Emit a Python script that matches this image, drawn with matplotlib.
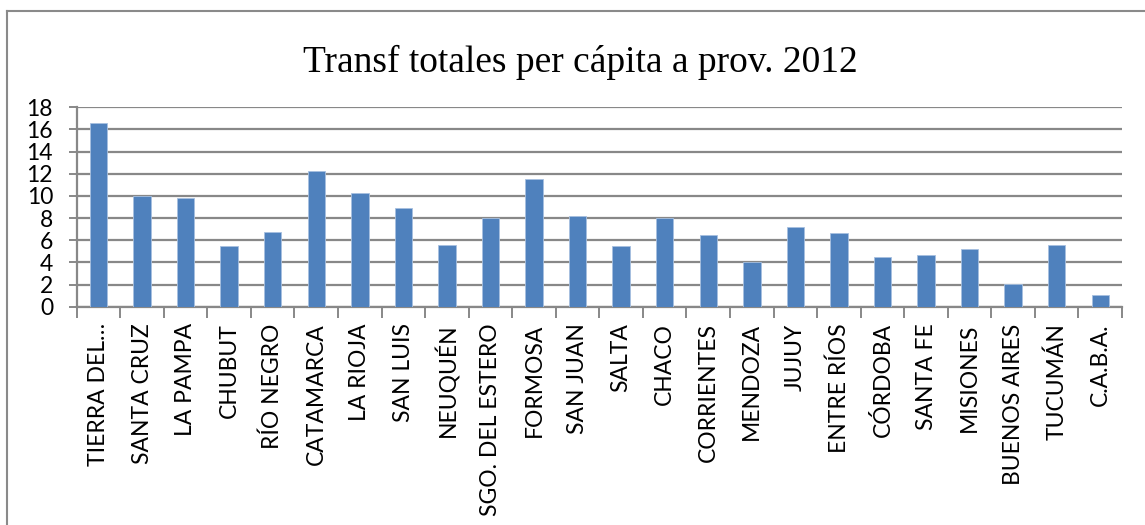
import matplotlib
matplotlib.use("Agg")
import matplotlib.pyplot as plt
from matplotlib.lines import Line2D

categories = ["TIERRA DEL…", "SANTA CRUZ", "LA PAMPA", "CHUBUT", "RÍO NEGRO",
              "CATAMARCA", "LA RIOJA", "SAN LUIS", "NEUQUÉN", "SGO. DEL ESTERO",
              "FORMOSA", "SAN JUAN", "SALTA", "CHACO", "CORRIENTES", "MENDOZA",
              "JUJUY", "ENTRE RÍOS", "CÓRDOBA", "SANTA FE", "MISIONES",
              "BUENOS AIRES", "TUCUMÁN", "C.A.B.A."]
values = [16.6, 10.0, 9.85, 5.5, 6.7, 12.25, 10.3, 8.9, 5.55, 8.0,
          11.5, 8.2, 5.45, 8.0, 6.5, 4.0, 7.15, 6.65, 4.5, 4.65,
          5.25, 2.05, 5.55, 1.1]
yticks = [0, 2, 4, 6, 8, 10, 12, 14, 16, 18]
title = "Transf totales per cápita a prov. 2012"

W, H = 1145, 525
fig = plt.figure(figsize=(W / 100, H / 100), dpi=100)
ax = fig.add_axes([76.7 / W, 1 - 306.7 / H, (1122 - 76.7) / W, (306.7 - 107.3) / H])

grid_c = "#888888"
n = len(categories)
x = list(range(n))
ax.bar(x, values, width=0.4, color="#4F81BD", edgecolor="#A7C0E0", linewidth=0.6, zorder=3)
ax.set_xlim(-0.5, n - 0.5)
ax.set_ylim(0, 18)
ax.set_yticks(yticks)
ax.yaxis.grid(True, color=grid_c, linewidth=1.6, zorder=0)
for s in ["top", "right"]:
    ax.spines[s].set_visible(False)
for s in ["left", "bottom"]:
    ax.spines[s].set_color(grid_c)
    ax.spines[s].set_linewidth(1.6)
ax.tick_params(axis="y", length=6, width=1.4, color=grid_c, pad=11, labelsize=16.5)
for lab in ax.get_yticklabels():
    lab.set_family("Lato")

# x ticks at category boundaries
ax.set_xticks([i - 0.5 for i in range(n + 1)])
ax.set_xticklabels([])
ax.tick_params(axis="x", length=8, width=1.4, color=grid_c)
for i, c in enumerate(categories):
    ax.text(i, -1.5, c, rotation=90, ha="center", va="top", fontsize=16.5,
            family="Lato", transform=ax.transData, clip_on=False)

fig.text(580 / W, 1 - 72 / H, title, ha="center", va="baseline",
         fontsize=27, family="Liberation Serif")

# outer frame (top and left visible)
fig.add_artist(Line2D([7 / W, 1.0], [1 - 11 / H, 1 - 11 / H], color="#8a8a8a", linewidth=1.5,
                      transform=fig.transFigure))
fig.add_artist(Line2D([7 / W, 7 / W], [0, 1 - 11 / H], color="#8a8a8a", linewidth=1.5,
                      transform=fig.transFigure))

fig.savefig("out.png", dpi=100)
